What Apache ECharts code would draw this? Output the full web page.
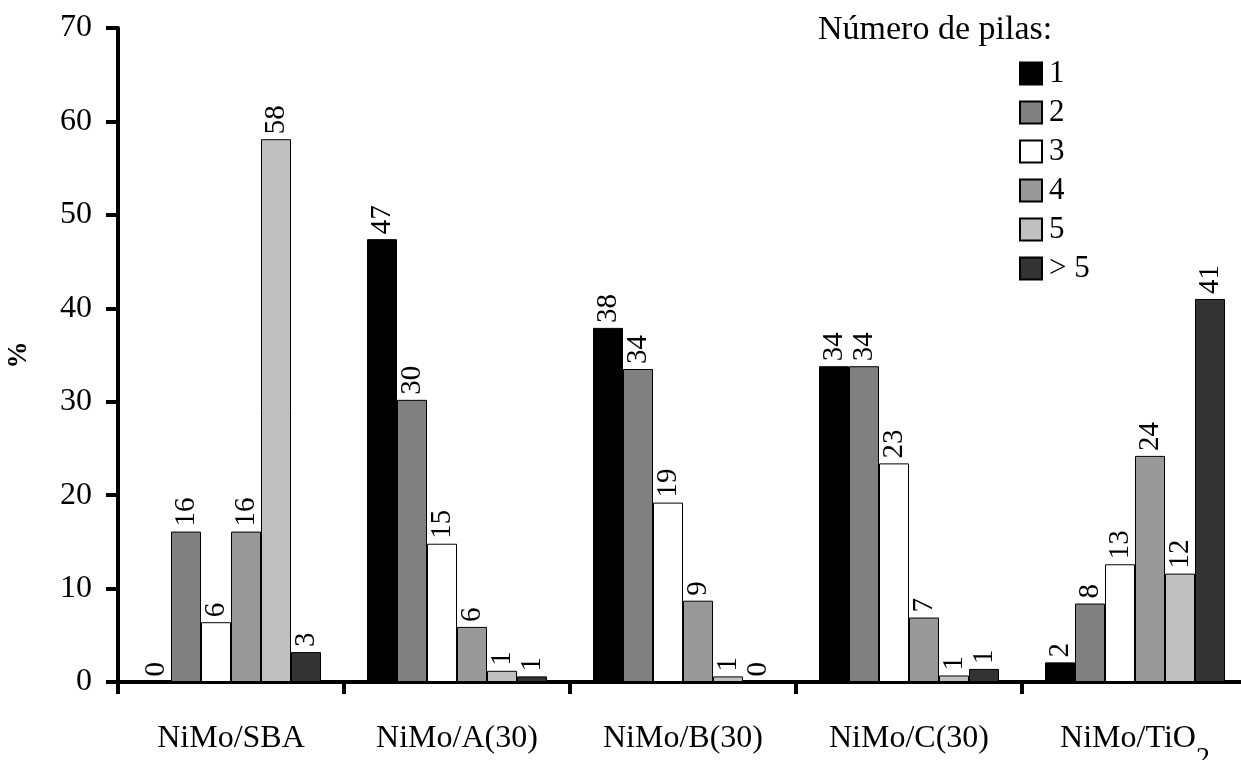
<!DOCTYPE html>
<html>
<head>
<meta charset="utf-8">
<script src="https://cdn.jsdelivr.net/npm/echarts@6/dist/echarts.min.js"></script>
<style>
html,body{margin:0;padding:0;background:#fff;}
#chart{width:1241px;height:760px;}
</style>
</head>
<body>
<div id="chart"></div>
<script>
var categories = ['NiMo/SBA', 'NiMo/A(30)', 'NiMo/B(30)', 'NiMo/C(30)', 'NiMo/TiO2'];
var seriesNames = ['1', '2', '3', '4', '5', '> 5'];
var s1 = [0, 47.4, 37.9, 33.8, 2.1];
var s2 = [16.1, 30.2, 33.5, 33.8, 8.4];
var s3 = [6.4, 14.8, 19.2, 23.4, 12.6];
var s4 = [16.1, 5.9, 8.7, 6.9, 24.2];
var s5 = [58.1, 1.2, 0.6, 0.7, 11.6];
var s6 = [3.2, 0.6, 0, 1.4, 41.0];
var yTicks = [0, 10, 20, 30, 40, 50, 60, 70];
var colors = ['#000000', '#808080', '#ffffff', '#999999', '#c0c0c0', '#333333'];

var FONT = 'Liberation Serif';
var allData = [s1, s2, s3, s4, s5, s6];

var series = allData.map(function (d, i) {
  return {
    name: seriesNames[i],
    type: 'bar',
    data: d,
    barWidth: 30,
    barGap: '0%',
    itemStyle: { color: colors[i], borderColor: '#000', borderWidth: 1 },
    label: {
      show: true,
      position: 'top',
      rotate: 90,
      align: 'left',
      verticalAlign: 'middle',
      distance: 5,
      fontFamily: FONT,
      fontSize: 29,
      color: '#000',
      formatter: function (p) { return String(Math.round(p.value)); }
    }
  };
});

var chart = echarts.init(document.getElementById('chart'));
chart.setOption({
  animation: false,
  backgroundColor: '#fff',
  grid: { left: 118, right: -7, top: 28, bottom: 78, containLabel: false, outerBoundsMode: 'none' },
  title: {
    text: 'Número de pilas:',
    left: 813,
    top: 8,
    textStyle: { fontFamily: FONT, fontSize: 34, fontWeight: 'normal', color: '#000' }
  },
  legend: {
    data: seriesNames,
    orient: 'vertical',
    left: 1019,
    top: 58,
    padding: 0,
    itemWidth: 22,
    itemHeight: 22,
    itemGap: 8,
    icon: 'rect',
    textStyle: { fontFamily: FONT, fontSize: 31, color: '#000', padding: [0, 0, 0, 2] }
  },
  xAxis: {
    type: 'category',
    data: categories,
    axisLine: { show: true, lineStyle: { color: '#000', width: 4 } },
    axisTick: { show: true, length: 12, lineStyle: { color: '#000', width: 4 } },
    axisLabel: {
      interval: 0,
      margin: 41,
      fontFamily: FONT,
      fontSize: 32,
      color: '#000',
      formatter: function (v) { return v === 'NiMo/TiO2' ? '{t|NiMo/TiO}{s|2}' : v; },
      rich: {
        t: { fontFamily: FONT, fontSize: 32, color: '#000', padding: [0, 0, 20, 0] },
        s: { fontFamily: FONT, fontSize: 28, color: '#000', padding: [20, 0, 0, 0] }
      }
    },
    splitLine: { show: false }
  },
  yAxis: {
    type: 'value',
    min: 0,
    max: 70,
    interval: 10,
    name: '%',
    nameLocation: 'middle',
    nameRotate: 90,
    nameGap: 85,
    nameTextStyle: { fontFamily: FONT, fontSize: 27, fontWeight: 'bold', color: '#000' },
    axisLine: { show: true, lineStyle: { color: '#000', width: 4 } },
    axisTick: { show: true, length: 12, lineStyle: { color: '#000', width: 4 } },
    axisLabel: {
      margin: 26,
      fontFamily: FONT,
      fontSize: 32,
      color: '#000',
      formatter: function (v) { return yTicks.indexOf(v) >= 0 ? String(v) : ''; }
    },
    splitLine: { show: false }
  },
  series: series
});
</script>
</body>
</html>
